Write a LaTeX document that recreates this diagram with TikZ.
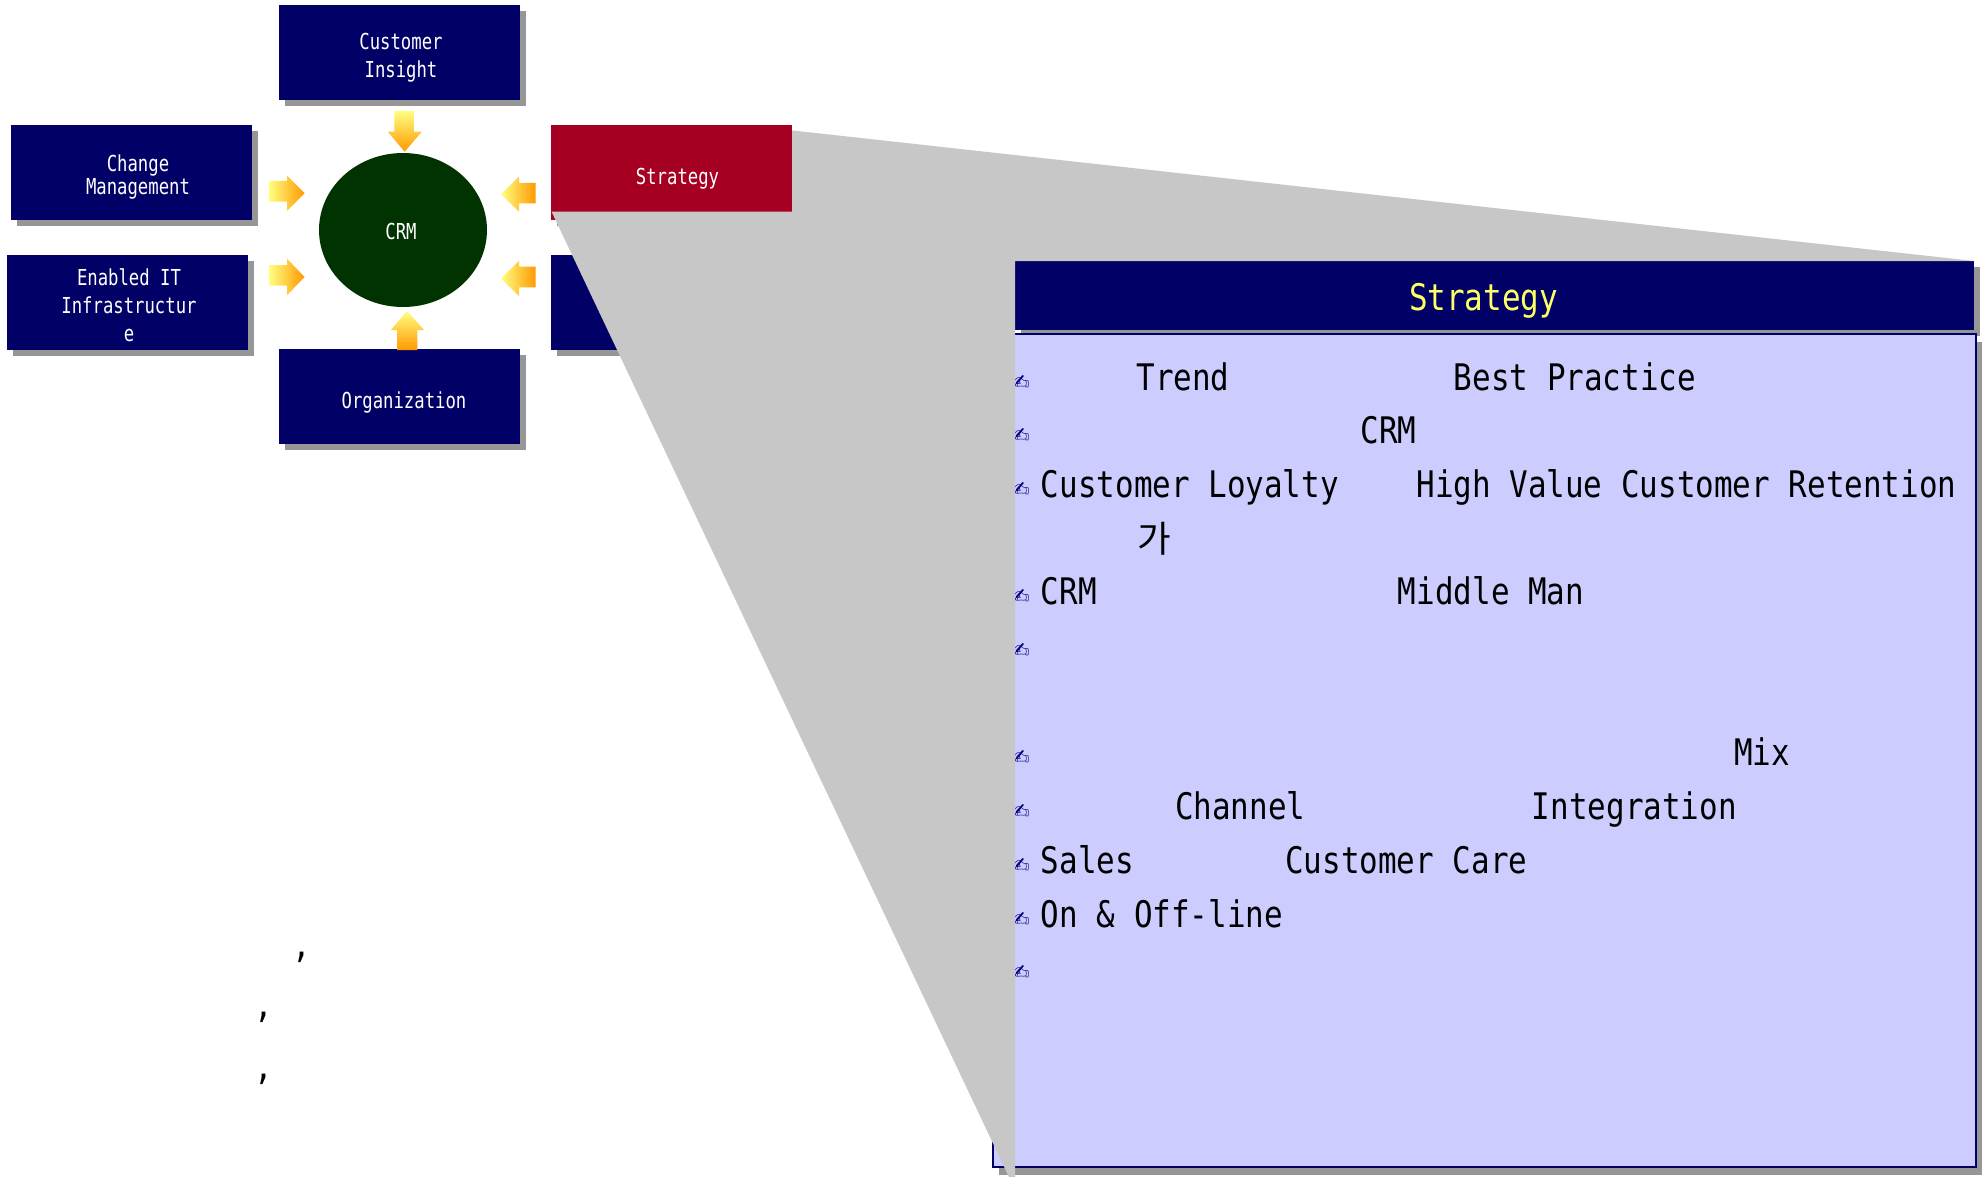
\documentclass[tikz,border=0pt]{standalone}
\usepackage{fontspec}
\usetikzlibrary{shapes.geometric, shadows, positioning}

\newfontfamily\gulim[FakeStretch=0.845]{DejaVu Sans Mono}
\newfontfamily\gulimsm[FakeStretch=0.785]{DejaVu Sans Mono}
\newfontfamily\korfont{Noto Sans CJK KR}
\newfontfamily\dingfont{DejaVu Sans}

\definecolor{navy}{RGB}{0,0,102}
\definecolor{crimson}{RGB}{165,0,33}
\definecolor{crmgreen}{RGB}{0,51,0}
\definecolor{shgrey}{RGB}{150,150,150}
\definecolor{zoomgrey}{RGB}{199,199,199}
\definecolor{lavender}{RGB}{204,204,255}
\definecolor{titleyel}{RGB}{255,255,102}
\definecolor{arryel}{RGB}{255,255,128}
\definecolor{arrorg}{RGB}{255,153,0}
\definecolor{penblue}{RGB}{0,0,128}

\begin{document}
\begin{tikzpicture}[
    x=0.5pt, y=-0.5pt,
    pbox/.style={
        rectangle, fill=#1, inner sep=0pt, outer sep=0pt,
        minimum width=120.5pt, minimum height=47.5pt,
        drop shadow={shadow xshift=3pt, shadow yshift=-3pt, fill=shgrey, opacity=1}
    },
    ptext/.style={
        text=white, align=center, inner sep=0pt,
        font=\gulimsm\fontsize{11pt}{14pt}\selectfont
    },
    btext/.style={
        anchor=base west, inner sep=0pt,
        font=\gulim\fontsize{18.3pt}{22pt}\selectfont
    },
    pen/.style={
        anchor=base west, inner sep=0pt, text=penblue,
        font=\dingfont\fontsize{11pt}{11pt}\selectfont
    },
    vshade/.style={shade, top color=arryel, bottom color=arrorg},
    hshade/.style={shade, left color=arryel, right color=arrorg},
]

\fill[white] (0,0) rectangle (1982,1177);
\useasboundingbox (0,0) rectangle (1982,1177);

% ============================================================
% CRM and its pillars
% ============================================================

\node[pbox=navy] (ci) at (399.5,52.5) {};
\node[ptext] (ci-t) at ([xshift=0.75pt,yshift=-2.5pt]ci.center) {Customer\\Insight};

\node[pbox=navy] (cm) at (131.5,172.5) {};
\node[ptext, font=\gulimsm\fontsize{11pt}{11.5pt}\selectfont] (cm-t)
    at ([xshift=3.25pt,yshift=-2.15pt]cm.center) {Change\\Management};

\node[pbox=navy] (eit) at (127.5,302.5) {};
\node[ptext] (eit-t) at ([xshift=0.75pt,yshift=-1.6pt]eit.center) {Enabled IT\\Infrastructur\\e};

\node[pbox=navy] (org) at (399.5,396.5) {};
\node[ptext] (org-t) at ([xshift=2.25pt,yshift=-3pt]org.center) {Organization};

\node[pbox=navy] (hid) at (671.5,302.5) {};

\node[pbox=crimson] (str) at (671.5,172.5) {};
\node[ptext] (str-t) at ([xshift=3pt,yshift=-2.95pt]str.center) {Strategy};

\node[ellipse, fill=crmgreen, inner sep=0pt, minimum width=84pt, minimum height=77pt] (crm) at (403,230) {};
\node[ptext] (crm-t) at ([xshift=-1pt,yshift=-0.9pt]crm.center) {CRM};

% block arrows into the circle
\path[vshade] (394.4,111) -- (413.8,111) -- (413.8,131.7) -- (421.9,131.7)
    -- (404.6,151.7) -- (387.8,131.7) -- (394.4,131.7) -- cycle;
\path[vshade] (397,350) -- (417.3,350) -- (417.3,330) -- (424,330)
    -- (407,311) -- (390.8,330) -- (397,330) -- cycle;
\path[hshade] (268.9,181) -- (287.2,181) -- (287.2,175.7) -- (304.6,193.2)
    -- (287.2,210.7) -- (287.2,201.7) -- (268.9,201.7) -- cycle;
\path[hshade] (268.9,265) -- (287.2,265) -- (287.2,259) -- (304.6,277)
    -- (287.2,295) -- (287.2,285.7) -- (268.9,285.7) -- cycle;
\path[hshade] (535.7,183) -- (519,183) -- (519,176.7) -- (501,194.2)
    -- (519,211.7) -- (519,203.3) -- (535.7,203.3) -- cycle;
\path[hshade] (535.7,266.7) -- (519,266.7) -- (519,261) -- (501,278.5)
    -- (519,296) -- (519,287.3) -- (535.7,287.3) -- cycle;

% stray commas
\node[btext, anchor=base] (cma1) at (302,957) {,};
\node[btext, anchor=base] (cma2) at (264,1017) {,};
\node[btext, anchor=base] (cma3) at (264,1079) {,};

% ============================================================
% Strategy panel
% ============================================================

\node[rectangle, fill=navy, inner sep=0pt, outer sep=0pt,
    minimum width=479.5pt, minimum height=34.5pt,
    drop shadow={shadow xshift=3pt, shadow yshift=-3pt, fill=shgrey, opacity=1}] (hdr) at (1494.5,295.5) {};
\node[btext, anchor=center, text=titleyel] (hdr-t) at ([xshift=-5.45pt,yshift=-2.6pt]hdr.center) {Strategy};

\node[rectangle, fill=lavender, draw=navy, line width=0.75pt, inner sep=0pt, outer sep=0pt,
    minimum width=491.5pt, minimum height=416.5pt,
    drop shadow={shadow xshift=3pt, shadow yshift=-4pt, fill=shgrey, opacity=1}] (body) at (1484.5,750.5) {};

\foreach \yy [count=\i] in {390,443.7,497.4,604.8,658.5,765.9,819.6,873.3,927,980.7}
    \node[pen] (ic\i) at (1011,\yy) {✍};

\node[btext] (l1a) at (1136,390) {Trend};
\node[btext] (l1b) at (1453.5,390) {Best Practice};
\node[btext] (l2a) at (1360,443.7) {CRM};
\node[btext] (l3a) at (1040.5,497.4) {Customer Loyalty};
\node[btext] (l3b) at (1416,497.4) {High Value Customer Retention};
\node[btext, font=\korfont\fontsize{18.3pt}{22pt}\selectfont] (l3c) at (1137,552) {가};
\node[btext] (l4a) at (1040.5,604.8) {CRM};
\node[btext] (l4b) at (1397.5,604.8) {Middle Man};
\node[btext] (l7a) at (1733.7,765.9) {Mix};
\node[btext] (l8a) at (1174.6,819.6) {Channel};
\node[btext] (l8b) at (1531.5,819.6) {Integration};
\node[btext] (l9a) at (1040.5,873.3) {Sales};
\node[btext] (l9b) at (1284.8,873.3) {Customer Care};
\node[btext] (l10a) at (1040.5,927) {On \& Off-line};

% zoom callout from the red box to the panel
\fill[zoomgrey] (551.5,211.5) -- (792,211.5) -- (792,130.4) -- (hdr.north east)
    -- (hdr.north west) -- (1015,1177) -- (1008.9,1177) -- cycle;

\end{tikzpicture}
\end{document}
